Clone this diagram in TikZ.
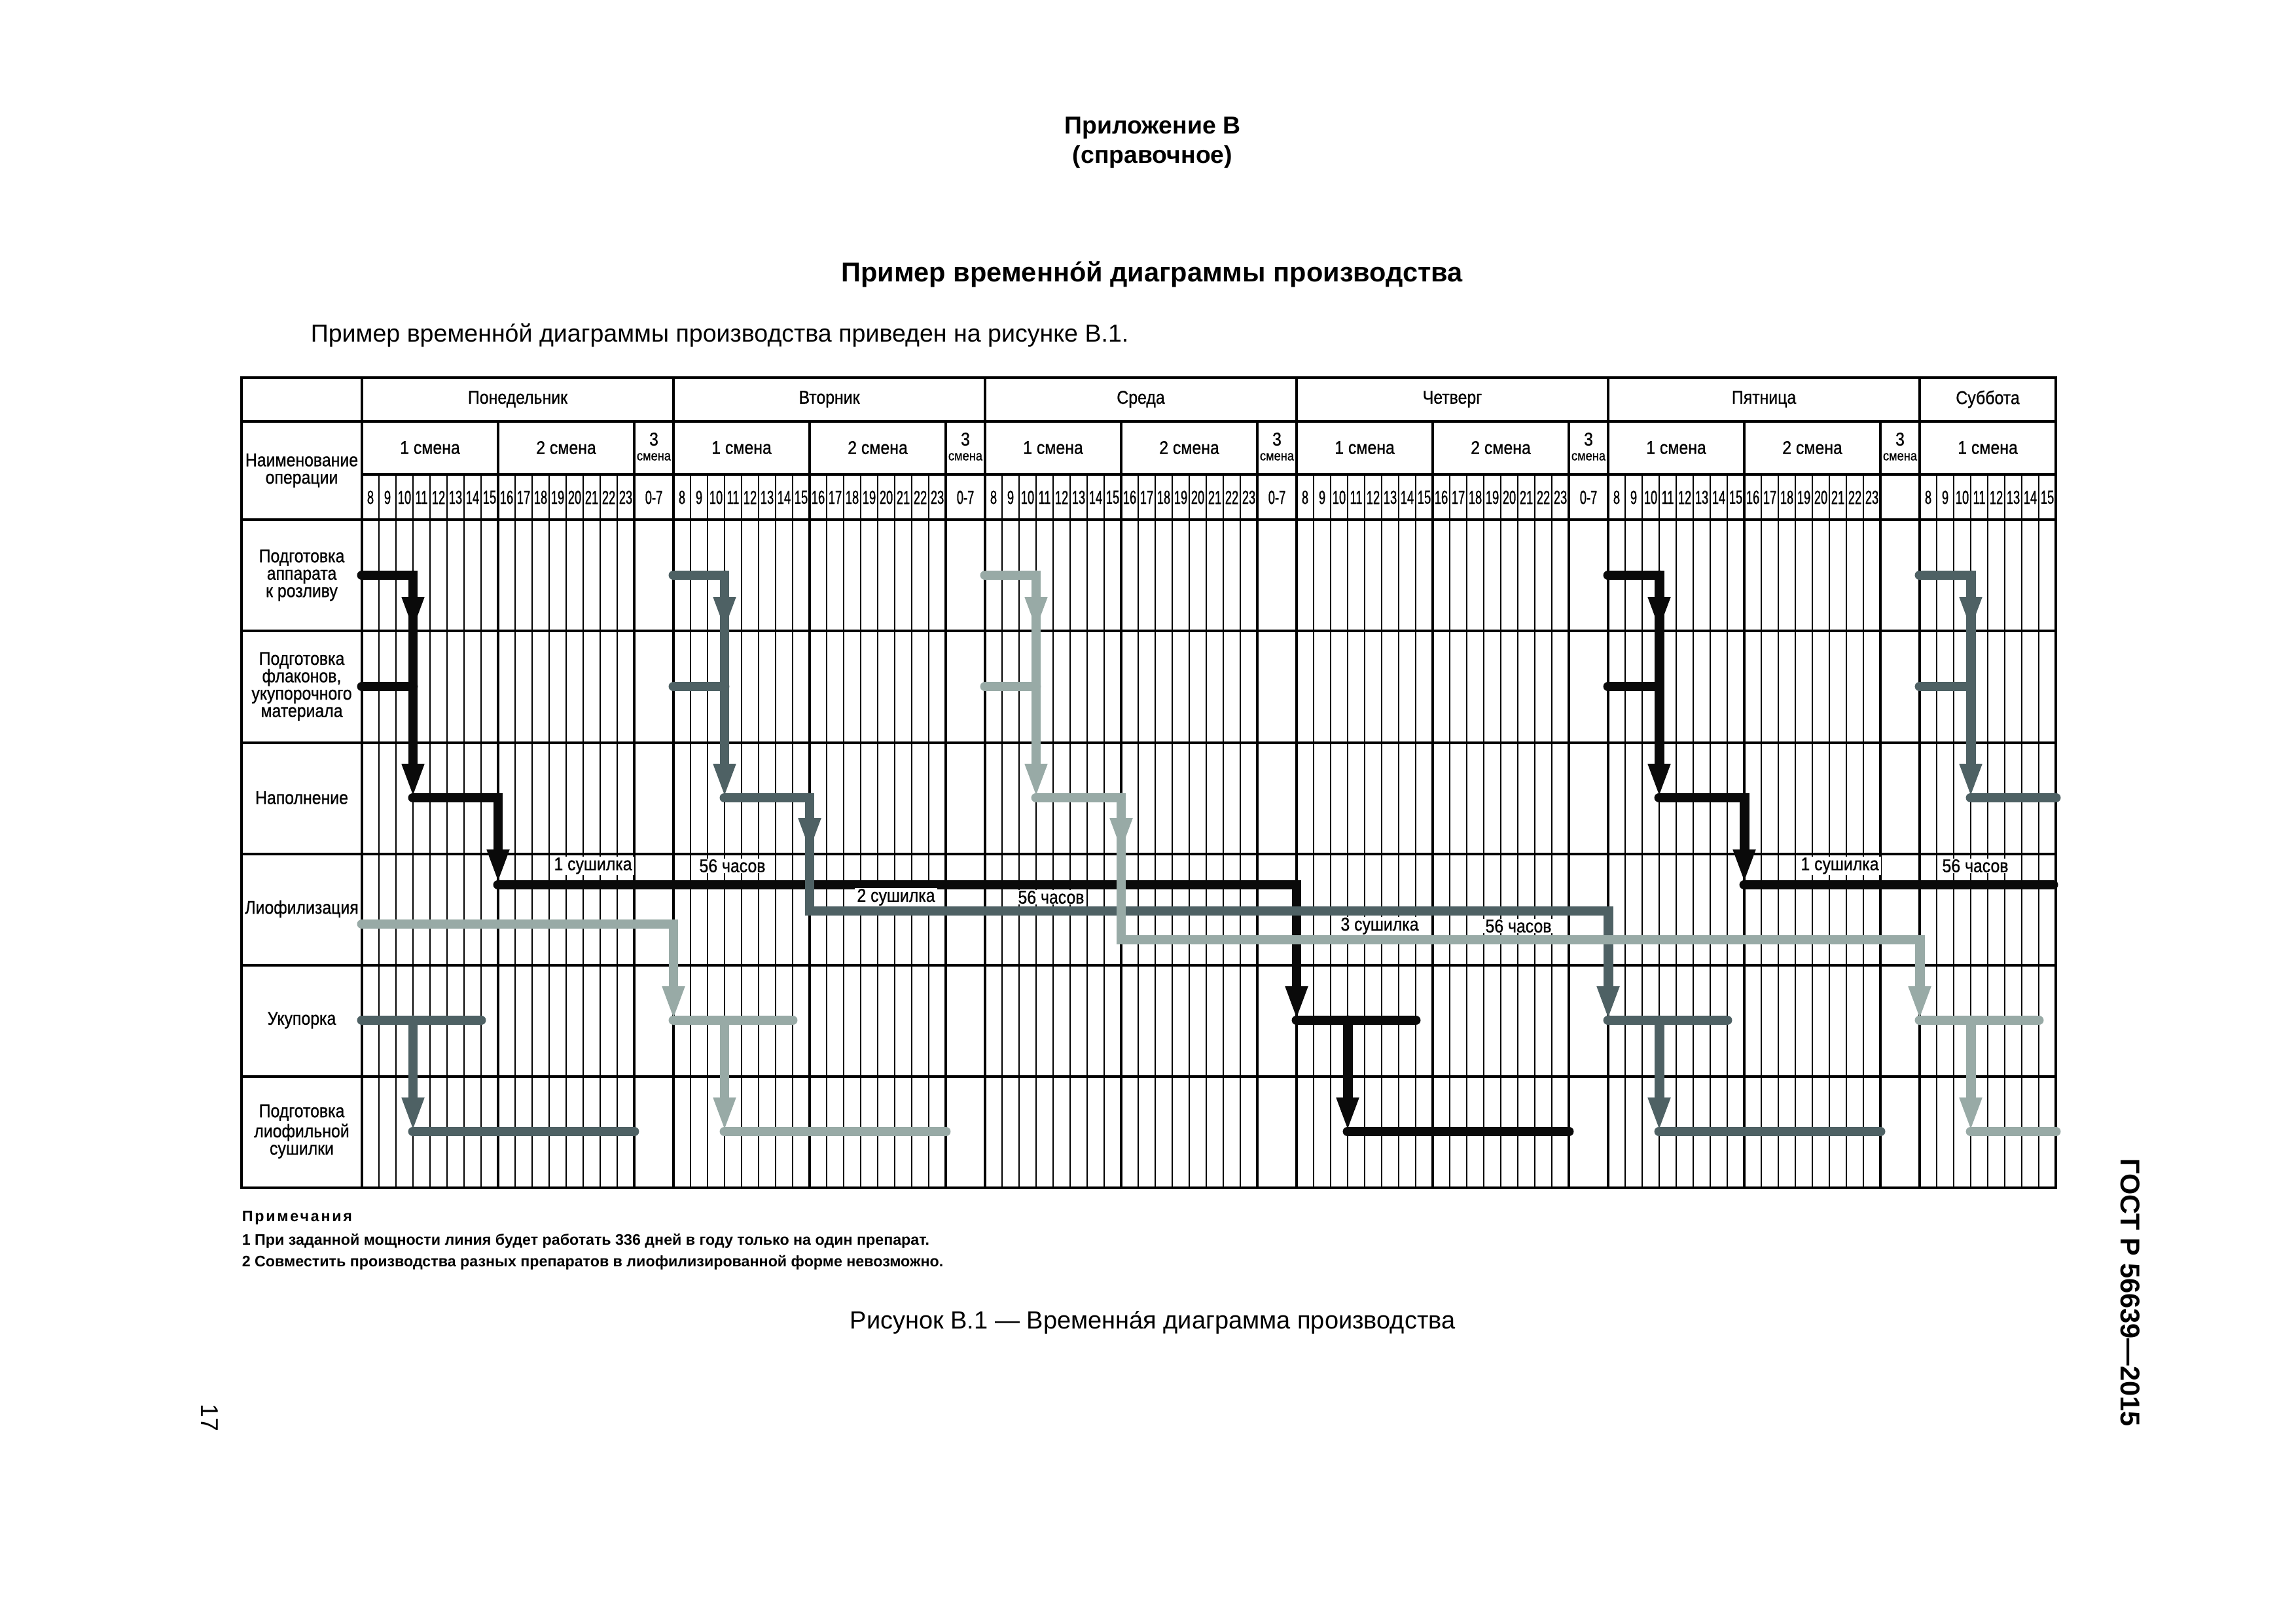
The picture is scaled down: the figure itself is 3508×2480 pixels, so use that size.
\documentclass[tikz,border=0pt]{standalone}
\usepackage{fontspec}
\setmainfont{Liberation Sans}
\newfontfamily\hoursfont[FakeStretch=0.63, FakeBold=0.8]{Liberation Sans}
\newfontfamily\cellfont[FakeStretch=0.88, FakeBold=0.8]{Liberation Sans}
\usetikzlibrary{arrows.meta, positioning}

\definecolor{prodA}{HTML}{0A0A0A}
\definecolor{prodB}{HTML}{4E6164}
\definecolor{prodC}{HTML}{98AAA6}

% rows 0-2 of one batch: preparation of the filler and of the vials
\newcommand{\batchprep}[2]{%
  \draw[prodbar, #2, flow] ({hx(#1,8)},{ry(0)}) -- ({hx(#1,11)},{ry(0)}) -- ({hx(#1,11)},{ry(2)});
  \draw[prodbar, #2, flow] ({hx(#1,11)},{ry(0)}) -- ({hx(#1,11)},964);
  \draw[prodbar, #2] ({hx(#1,8)},{ry(1)}) -- ({hx(#1,11)},{ry(1)});
}
% rows 4-5 of one batch: capping, then preparing the dryer
\newcommand{\batchpack}[3]{%
  \draw[prodbar, #2] ({hx(#1,8)},{ry(4)}) -- ({hx(#1,15)},{ry(4)});
  \draw[prodbar, #2, flow] ({hx(#1,11)},{ry(4)}) -- ({hx(#1,11)},{ry(5)});
  \draw[prodbar, #2] ({hx(#1,11)},{ry(5)}) -- ({hx(#1,#3)},{ry(5)});
}

\begin{document}
\begin{tikzpicture}[
    x=0.08466mm, y=-0.08466mm,
    declare function={hx(\a,\b)=553+476*\a+26*(\b-8); ry(\r)=879+170*\r;},
    outerline/.style={line width=1.1pt},
    ruleline/.style={line width=0.8pt},
    hourline/.style={line width=0.6pt},
    celltxt/.style={font=\cellfont\fontsize{6.8}{6.4}\selectfont, align=center, inner sep=0pt},
    hourtxt/.style={font=\hoursfont\fontsize{7}{7}\selectfont, inner sep=0pt},
    smalltxt/.style={font=\cellfont\fontsize{5}{5}\selectfont, inner sep=0pt},
    prodbar/.style={line width=3.6pt, line cap=round, line join=miter},
    flow/.style={-{Triangle[length=12.5pt, width=7.4pt]}},
    drylabel/.style={celltxt, fill=white, inner xsep=0.8pt, inner ysep=0.3pt},
    headtxt/.style={font=\bfseries\fontsize{9}{10}\selectfont, inner sep=0pt},
    notetxt/.style={font=\bfseries\fontsize{5.6}{6}\selectfont, inner sep=0pt, anchor=west}
]
\useasboundingbox (0,0) rectangle (3508,2480);

% page texts
\node[headtxt] (annex) at (1761,196) {Приложение В};
\node[headtxt] (annexkind) at (1761,240) {(справочное)};
\node[font=\bfseries\fontsize{10}{12}\selectfont, inner sep=0pt] (title) at (1760,419) {Пример временно́й диаграммы производства};
\node[font=\fontsize{9.05}{11}\selectfont, inner sep=0pt, anchor=west] (intro) at (474,512) {Пример временно́й диаграммы производства приведен на рисунке В.1.};

% table frame and rules
\draw[outerline] (369,577) rectangle (3141,1815);
\draw[ruleline] (369,644) -- (3141,644);
\draw[ruleline] (553,725) -- (3141,725);
\foreach \y in {794,964,1135,1305,1475,1645}
  \draw[ruleline] (369,\y) -- (3141,\y);
\foreach \dn in {0,...,5}
  \draw[ruleline] ({hx(\dn,8)},577) -- ({hx(\dn,8)},1815);
\foreach \dn in {0,...,4}
  \draw[ruleline] ({hx(\dn,16)},644) -- ({hx(\dn,16)},1815)
                  ({hx(\dn,24)},644) -- ({hx(\dn,24)},1815);
\foreach \dn in {0,...,5}
  \foreach \hn in {9,...,15}
    \draw[hourline] ({hx(\dn,\hn)},725) -- ({hx(\dn,\hn)},1815);
\foreach \dn in {0,...,4}
  \foreach \hn in {17,...,23}
    \draw[hourline] ({hx(\dn,\hn)},725) -- ({hx(\dn,\hn)},1815);

% header
\node[celltxt] (opname) at (461,719) {Наименование\\операции};
\foreach \dn/\dname in {0/Понедельник, 1/Вторник, 2/Среда, 3/Четверг, 4/Пятница}
  \node[celltxt] (day\dn) at ({hx(\dn,8)+238},610) {\dname};
\node[celltxt] (day5) at ({hx(5,12)},610) {Суббота};
\foreach \dn in {0,...,4} {
  \node[celltxt] (shA\dn) at ({hx(\dn,12)},684) {1 смена};
  \node[celltxt] (shB\dn) at ({hx(\dn,20)},684) {2 смена};
  \node[celltxt] (shC\dn) at ({hx(\dn,24)+30},671) {3};
  \node[smalltxt] (shCw\dn) at ({hx(\dn,24)+30},698) {смена};
  \foreach \hn in {8,...,23}
    \node[hourtxt] (hr\dn-\hn) at ({hx(\dn,\hn)+13},760) {\hn};
}
\foreach \dn in {0,...,3}
  \node[hourtxt] (night\dn) at ({hx(\dn,24)+30},760) {0-7};
\node[celltxt] (shA5) at ({hx(5,12)},684) {1 смена};
\foreach \hn in {8,...,15}
  \node[hourtxt] (hr5-\hn) at ({hx(5,\hn)+13},760) {\hn};

% operations
\node[celltxt] (op0) at (461,{ry(0)}) {Подготовка\\аппарата\\к розливу};
\node[celltxt] (op1) at (461,{ry(1)}) {Подготовка\\флаконов,\\укупорочного\\материала};
\node[celltxt] (op2) at (461,{ry(2)}) {Наполнение};
\node[celltxt] (op3) at (461,{ry(3)}) {Лиофилизация};
\node[celltxt] (op4) at (461,{ry(4)}) {Укупорка};
\node[celltxt] (op5) at (461,{ry(5)}) {Подготовка\\лиофильной\\сушилки};

% first product (black)
\batchprep{0}{prodA}
\draw[prodbar, prodA, flow] ({hx(0,11)},{ry(2)}) -- ({hx(0,16)},{ry(2)}) -- ({hx(0,16)},1350);
\draw[prodbar, prodA, flow] ({hx(0,16)},1352) -- ({hx(3,8)},1352) -- ({hx(3,8)},{ry(4)});
\batchpack{3}{prodA}{24}
\batchprep{4}{prodA}
\draw[prodbar, prodA, flow] ({hx(4,11)},{ry(2)}) -- ({hx(4,16)},{ry(2)}) -- ({hx(4,16)},1350);
\draw[prodbar, prodA] ({hx(4,16)},1352) -- ({hx(5,16)-4},1352);

% second product (dark grey)
\batchpack{0}{prodB}{24}
\batchprep{1}{prodB}
\draw[prodbar, prodB, flow] ({hx(1,16)},{ry(2)}) -- ({hx(1,16)},1302);
\draw[prodbar, prodB, flow] ({hx(1,11)},{ry(2)}) -- ({hx(1,16)},{ry(2)}) -- ({hx(1,16)},1392)
  -- ({hx(4,8)},1392) -- ({hx(4,8)},{ry(4)});
\batchpack{4}{prodB}{24}
\batchprep{5}{prodB}
\draw[prodbar, prodB] ({hx(5,11)},{ry(2)}) -- ({hx(5,16)},{ry(2)});

% third product (light grey)
\draw[prodbar, prodC, flow] ({hx(0,8)},1412) -- ({hx(1,8)},1412) -- ({hx(1,8)},{ry(4)});
\batchpack{1}{prodC}{24}
\batchprep{2}{prodC}
\draw[prodbar, prodC, flow] ({hx(2,16)},{ry(2)}) -- ({hx(2,16)},1302);
\draw[prodbar, prodC, flow] ({hx(2,11)},{ry(2)}) -- ({hx(2,16)},{ry(2)}) -- ({hx(2,16)},1436)
  -- ({hx(5,8)},1436) -- ({hx(5,8)},{ry(4)});
\batchpack{5}{prodC}{16}

% dryer labels
\node[drylabel] (dryA) at (906,1323) {1 сушилка};
\node[drylabel] (timeA) at (1119,1323) {56 часов};
\node[drylabel] (dryB) at (1369,1371) {2 сушилка};
\node[drylabel] (timeB) at (1606,1371) {56 часов};
\node[drylabel] (dryC) at (2108,1415) {3 сушилка};
\node[drylabel] (timeC) at (2320,1415) {56 часов};
\node[drylabel] (dryD) at (2811,1323) {1 сушилка};
\node[drylabel] (timeD) at (3018,1323) {56 часов};

% notes and caption
\node[notetxt] (notes) at (369,1861) {\addfontfeature{LetterSpace=12}Примечания};
\node[notetxt] (note1) at (369,1896) {1 При заданной мощности линия будет работать 336 дней в году только на один препарат.};
\node[notetxt] (note2) at (369,1929) {2 Совместить производства разных препаратов в лиофилизированной форме невозможно.};
\node[font=\fontsize{9.15}{11}\selectfont, inner sep=0pt] (caption) at (1761,2021) {Рисунок В.1 — Временна́я диаграмма производства};

% side texts
\node[font=\bfseries\fontsize{10}{12}\selectfont, inner sep=0pt, rotate=-90] (gost) at (3255,1975) {ГОСТ Р 56639—2015};
\node[font=\fontsize{9}{11}\selectfont, inner sep=0pt, rotate=-90] (pageno) at (320,2166) {17};
\end{tikzpicture}
\end{document}
